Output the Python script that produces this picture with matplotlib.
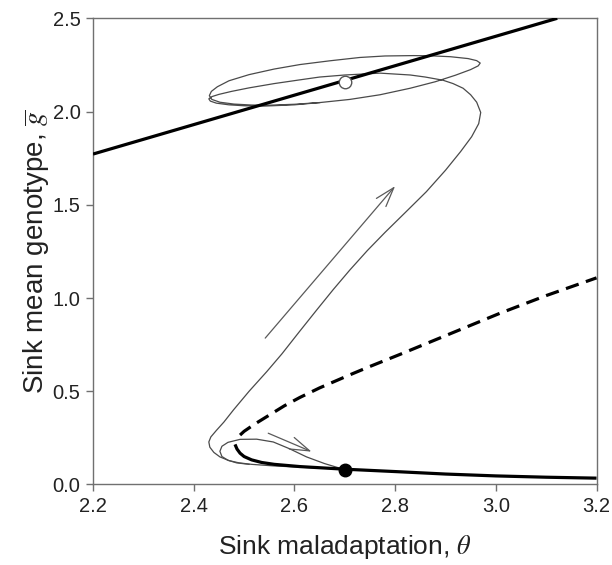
import numpy as np
import matplotlib
matplotlib.use("Agg")
import matplotlib.pyplot as plt

plt.rcParams['font.family'] = ['Liberation Sans', 'DejaVu Sans']
plt.rcParams['mathtext.fontset'] = 'stix'

# upper equilibrium line (thick solid)
upper_x = [2.2, 3.122]
upper_y = [1.772, 2.5]

# lower stable branch (thick solid)
lower_x = [2.482, 2.486, 2.492, 2.500, 2.515, 2.535, 2.560, 2.611, 2.700, 2.810, 2.900, 3.000, 3.100, 3.200]
lower_y = [0.215, 0.190, 0.168, 0.150, 0.132, 0.118, 0.108, 0.096, 0.082, 0.068, 0.056, 0.046, 0.039, 0.034]

# unstable branch (thick dashed)
dash_x = [2.492, 2.500, 2.520, 2.550, 2.580, 2.611, 2.650, 2.710, 2.750, 2.810, 2.900, 3.008, 3.100, 3.200]
dash_y = [0.265, 0.285, 0.322, 0.372, 0.422, 0.467, 0.518, 0.588, 0.633, 0.698, 0.798, 0.918, 1.013, 1.108]

# long trajectory: from the lower point, up the S and around the loop
traj_x = [2.697, 2.650, 2.600, 2.557, 2.515, 2.490, 2.470, 2.452, 2.440, 2.432, 2.430, 2.434,
          2.445, 2.460, 2.479, 2.510, 2.545, 2.575, 2.610, 2.644, 2.677, 2.710, 2.745, 2.780,
          2.820, 2.862, 2.900, 2.930, 2.952, 2.966, 2.970, 2.962, 2.950, 2.935, 2.915, 2.895,
          2.860, 2.830, 2.770, 2.700, 2.650, 2.611, 2.560, 2.510, 2.475, 2.450, 2.436, 2.430,
          2.433, 2.445, 2.470, 2.500, 2.538, 2.600, 2.650, 2.710, 2.770, 2.830, 2.880, 2.920,
          2.950, 2.965, 2.969, 2.962, 2.945, 2.910, 2.870, 2.836, 2.780, 2.730, 2.670, 2.611,
          2.560, 2.510, 2.470, 2.447, 2.435, 2.431, 2.436, 2.452, 2.480, 2.515, 2.550, 2.600,
          2.650]
traj_y = [0.082, 0.088, 0.094, 0.100, 0.108, 0.116, 0.128, 0.148, 0.172, 0.200, 0.228, 0.255,
          0.290, 0.335, 0.400, 0.500, 0.605, 0.700, 0.820, 0.935, 1.045, 1.150, 1.255, 1.352,
          1.458, 1.570, 1.685, 1.785, 1.865, 1.935, 1.995, 2.050, 2.090, 2.125, 2.150, 2.168,
          2.185, 2.196, 2.206, 2.196, 2.185, 2.170, 2.150, 2.127, 2.108, 2.092, 2.080, 2.068,
          2.056, 2.045, 2.036, 2.031, 2.029, 2.036, 2.048, 2.065, 2.090, 2.125, 2.160, 2.195,
          2.225, 2.245, 2.260, 2.273, 2.284, 2.294, 2.299, 2.300, 2.298, 2.290, 2.272, 2.252,
          2.228, 2.198, 2.165, 2.133, 2.108, 2.085, 2.065, 2.050, 2.040, 2.035, 2.034, 2.039,
          2.048]

# short trajectory: small loop into the lower point
loop_x = [2.510, 2.485, 2.468, 2.456, 2.452, 2.456, 2.468, 2.492, 2.525, 2.558, 2.590, 2.624, 2.660, 2.697]
loop_y = [0.108, 0.116, 0.130, 0.150, 0.178, 0.205, 0.226, 0.242, 0.243, 0.228, 0.192, 0.148, 0.112, 0.082]

# equilibria
open_pt = (2.700, 2.160)
filled_pt = (2.700, 0.080)

# arrows (tail, head)
arrow_big = ((2.542, 0.785), (2.800, 1.600))
arrow_small = ((2.548, 0.275), (2.634, 0.176))

fig = plt.figure(figsize=(6.12, 5.65), dpi=100)
ax = fig.add_axes([0.152, 0.1425, 0.8227, 0.8251])

ax.plot(upper_x, upper_y, color='black', lw=2.3, solid_capstyle='butt', zorder=3)
ax.plot(lower_x, lower_y, color='black', lw=2.3, solid_capstyle='butt', zorder=3)
ax.plot(dash_x, dash_y, color='black', lw=2.3, dashes=(4.2, 2.4), zorder=3)

ax.plot(traj_x, traj_y, color='#4a4a4a', lw=0.9, zorder=2)
ax.plot(loop_x, loop_y, color='#4a4a4a', lw=0.9, zorder=2)

for tail, head in [arrow_big, arrow_small]:
    ax.annotate('', xy=head, xytext=tail,
                arrowprops=dict(arrowstyle='->,head_length=1.4,head_width=0.45',
                                color='#5a5a5a', lw=0.9, shrinkA=0, shrinkB=0))

ax.plot(*open_pt, 'o', ms=9, mfc='white', mec='#555555', mew=1.0, zorder=5)
ax.plot(*filled_pt, 'o', ms=9, mfc='black', mec='black', zorder=5)

ax.set_xlim(2.2, 3.2)
ax.set_ylim(0, 2.5)
ax.set_xticks([2.2, 2.4, 2.6, 2.8, 3.0, 3.2])
ax.set_yticks([0.0, 0.5, 1.0, 1.5, 2.0, 2.5])
ax.set_xticklabels(['2.2', '2.4', '2.6', '2.8', '3.0', '3.2'])
ax.set_yticklabels(['0.0', '0.5', '1.0', '1.5', '2.0', '2.5'])

for s in ax.spines.values():
    s.set_color('#707070')
    s.set_linewidth(1.0)
ax.tick_params(direction='out', length=5, width=1.0, color='#707070',
               labelsize=14.5, labelcolor='#222222', pad=4)

ax.set_xlabel(r'Sink maladaptation, $\theta$', fontsize=19, labelpad=12, color='#222222')
ax.set_ylabel(r'Sink mean genotype, $\overline{g}$', fontsize=20, labelpad=1, color='#222222')

fig.savefig('out.png', dpi=100)
